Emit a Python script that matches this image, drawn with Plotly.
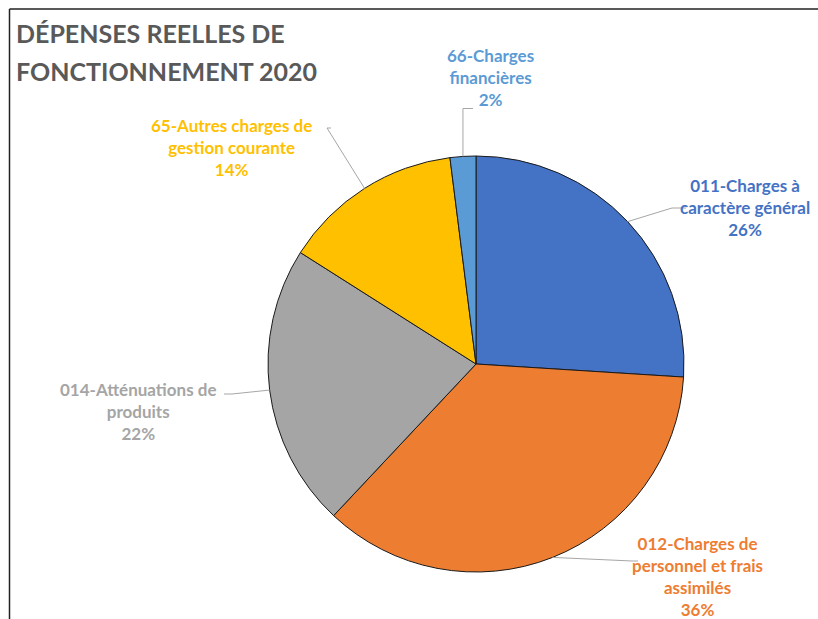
import math
import plotly.graph_objects as go

# Budget categories (real operating expenses, 2020), share in percent
categories = [
    "011-Charges à caractère général",
    "012-Charges de personnel et frais assimilés",
    "014-Atténuations de produits",
    "65-Autres charges de gestion courante",
    "66-Charges financières",
]
shares = [26, 36, 22, 14, 2]
label_lines = [
    ["011-Charges à", "caractère général"],
    ["012-Charges de", "personnel et frais", "assimilés"],
    ["014-Atténuations de", "produits"],
    ["65-Autres charges de", "gestion courante"],
    ["66-Charges", "financières"],
]
colors = ["#4472C4", "#ED7D31", "#A5A5A5", "#FFC000", "#5B9BD5"]

W, H = 818, 619
CX, CY, R = 476, 364, 208  # pie centre / radius in pixels

# label text centres (px), leader elbow points and leader ends (px)
label_pos = [(745, 207), (697, 576), (138, 411), (232, 147), (490, 78)]
elbow_pos = [(672, 208), (632, 561), (232, 394), (327, 128), (None, 108.5)]
leader_end = [(686, 208), (638, 561), (224, 394), (331, 128), (473, 108.5)]


def px(x):
    return x / W


def py(y):
    return 1 - y / H


fig = go.Figure(
    go.Pie(
        labels=categories,
        values=shares,
        sort=False,
        direction="clockwise",
        rotation=0,
        textinfo="none",
        hoverinfo="label+percent",
        marker=dict(colors=colors, line=dict(color="#1a1a1a", width=1)),
        domain=dict(
            x=[px(CX - R), px(CX + R)],
            y=[py(CY + R), py(CY - R)],
        ),
        showlegend=False,
    )
)

shapes = []
annotations = []
total = sum(shares)
cum = 0
for i, v in enumerate(shares):
    mid = (cum + v / 2) / total * 2 * math.pi
    cum += v
    ex = CX + R * math.sin(mid)
    ey = CY - R * math.cos(mid)
    bx, by = elbow_pos[i]
    if bx is None:  # vertical leader straight up from the slice
        bx = ex
    tx, ty = leader_end[i]
    # leader line: slice edge -> elbow -> label
    path = f"M {px(ex)},{py(ey)} L {px(bx)},{py(by)} L {px(tx)},{py(ty)}"
    shapes.append(dict(type="path", xref="paper", yref="paper", path=path,
                       line=dict(color="#A6A6A6", width=1)))
    text = "<br>".join(label_lines[i] + [f"{v}%"])
    lx, ly = label_pos[i]
    annotations.append(dict(
        x=px(lx), y=py(ly), xref="paper", yref="paper",
        xanchor="center", yanchor="middle", showarrow=False,
        text=text, align="center",
        font=dict(family="Lato", size=17, color=colors[i], weight="bold"),
    ))

# chart title (two lines)
for line, ymid in [("DÉPENSES REELLES DE", 33), ("FONCTIONNEMENT 2020", 71)]:
    annotations.append(dict(
        x=px(14), y=py(ymid), xref="paper", yref="paper",
        xanchor="left", yanchor="middle", showarrow=False,
        text=line,
        font=dict(family="Lato", size=25, color="#595959", weight="bold"),
    ))

# frame: top and left border
shapes.append(dict(type="line", xref="paper", yref="paper",
                   x0=px(9.5), x1=1, y0=py(9), y1=py(9),
                   line=dict(color="#222222", width=1.5)))
shapes.append(dict(type="line", xref="paper", yref="paper",
                   x0=px(9.5), x1=px(9.5), y0=py(9), y1=0,
                   line=dict(color="#222222", width=1.5)))

fig.update_layout(
    width=W, height=H,
    margin=dict(l=0, r=0, t=0, b=0),
    paper_bgcolor="white",
    plot_bgcolor="white",
    shapes=shapes,
    annotations=annotations,
)

fig.write_html("out.html")
